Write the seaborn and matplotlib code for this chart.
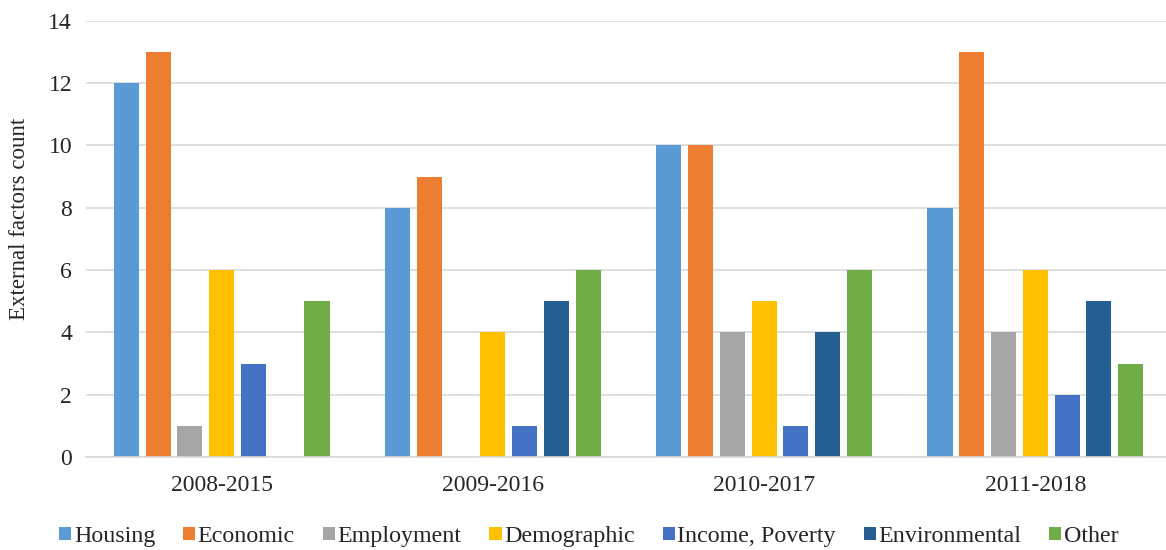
import matplotlib
matplotlib.use("Agg")
import matplotlib.pyplot as plt
import pandas as pd
import seaborn as sns

# Data: count of external factors by study period
periods = ["2008-2015", "2009-2016", "2010-2017", "2011-2018"]
factors = ["Housing", "Economic", "Employment", "Demographic",
           "Income, Poverty", "Environmental", "Other"]
housing = [12, 8, 10, 8]
economic = [13, 9, 10, 13]
employment = [1, 0, 4, 4]
demographic = [6, 4, 5, 6]
income_poverty = [3, 1, 1, 2]
environmental = [0, 5, 4, 5]
other = [5, 6, 6, 3]
y_ticks = [0, 2, 4, 6, 8, 10, 12, 14]

colors = ["#5B9BD5", "#ED7D31", "#A5A5A5", "#FFC000",
          "#4472C4", "#255E91", "#70AD47"]

series = [housing, economic, employment, demographic,
          income_poverty, environmental, other]
rows = []
for name, vals in zip(factors, series):
    for p, v in zip(periods, vals):
        rows.append({"period": p, "factor": name, "count": v})
df = pd.DataFrame(rows)

sns.set_theme(style="white")
plt.rcParams["font.family"] = ["Liberation Serif", "DejaVu Serif"]

W, H = 1166, 550
fig = plt.figure(figsize=(W / 100, H / 100), dpi=100)
ax = fig.add_axes([86 / W, 1 - 457 / H, (1171 - 86) / W, (457 - 20.7) / H])

sns.barplot(data=df, x="period", y="count", hue="factor",
            order=periods, hue_order=factors, palette=colors,
            saturation=1, width=0.82, gap=0.21, linewidth=0,
            ax=ax)

ax.set_ylim(0, 14)
ax.set_yticks(y_ticks)
ax.set_xlim(-0.5, len(periods) - 0.5)
ax.yaxis.grid(True, color="#D9D9D9", linewidth=1.2)
ax.set_axisbelow(True)
for side in ["left", "right", "top"]:
    ax.spines[side].set_visible(False)
ax.spines["bottom"].set_color("#D9D9D9")
ax.spines["bottom"].set_linewidth(1.2)
ax.tick_params(axis="both", length=0, labelsize=17, colors="#262626")
ax.tick_params(axis="y", pad=10)
ax.tick_params(axis="x", pad=13)
ax.set_xlabel("")
ax.set_ylabel("External factors count", fontsize=16.5, color="#262626")
ax.yaxis.set_label_coords(-0.052, 0.545)

handles, labels = ax.get_legend_handles_labels()
ax.get_legend().remove()
fig.legend(handles, labels, loc="lower center", bbox_to_anchor=(0.505, -0.034),
           ncol=7, frameon=False, fontsize=17.3, handlelength=0.5,
           handleheight=0.5, handletextpad=0.1, columnspacing=1.17,
           labelcolor="#262626")

fig.savefig("out.png", dpi=100)
